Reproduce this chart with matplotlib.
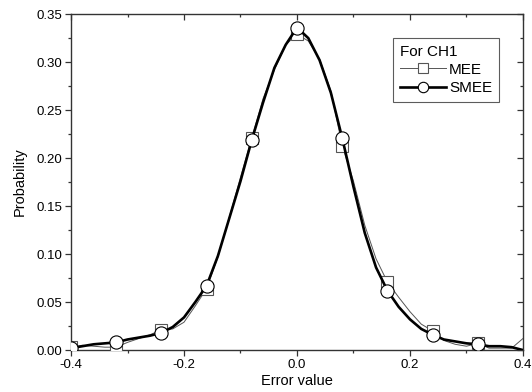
import matplotlib
matplotlib.use("Agg")
import matplotlib.pyplot as plt
from matplotlib.ticker import MultipleLocator
from matplotlib.lines import Line2D

plt.rcParams['font.family'] = ['Liberation Sans', 'DejaVu Sans']

error_values = [-0.40, -0.38, -0.36, -0.34, -0.32, -0.30, -0.28, -0.26, -0.24, -0.22,
                -0.20, -0.18, -0.16, -0.14, -0.12, -0.10, -0.08, -0.06, -0.04, -0.02,
                0.00, 0.02, 0.04, 0.06, 0.08, 0.10, 0.12, 0.14, 0.16, 0.18,
                0.20, 0.22, 0.24, 0.26, 0.28, 0.30, 0.32, 0.34, 0.36, 0.38, 0.40]

mee = [0.003, 0.005, 0.004, 0.003, 0.003, 0.008, 0.012, 0.016, 0.021, 0.022,
       0.029, 0.046, 0.064, 0.097, 0.138, 0.180, 0.221, 0.262, 0.292, 0.318,
       0.329, 0.322, 0.303, 0.270, 0.213, 0.176, 0.130, 0.095, 0.071, 0.055,
       0.040, 0.027, 0.020, 0.010, 0.006, 0.004, 0.007, 0.002, 0.002, 0.002, 0.012]

smee = [0.002, 0.004, 0.006, 0.007, 0.008, 0.011, 0.013, 0.015, 0.018, 0.024,
        0.034, 0.050, 0.067, 0.098, 0.137, 0.176, 0.219, 0.258, 0.294, 0.318,
        0.336, 0.325, 0.302, 0.268, 0.221, 0.170, 0.122, 0.086, 0.062, 0.045,
        0.032, 0.022, 0.016, 0.011, 0.009, 0.007, 0.006, 0.004, 0.004, 0.003, 0.000]

x_ticks = [-0.4, -0.2, 0.0, 0.2, 0.4]
x_tick_labels = ['-0.4', '-0.2', '0.0', '0.2', '0.4']
y_ticks = [0.00, 0.05, 0.10, 0.15, 0.20, 0.25, 0.30, 0.35]
y_tick_labels = ['0.00', '0.05', '0.10', '0.15', '0.20', '0.25', '0.30', '0.35']

fig = plt.figure(figsize=(5.32, 3.92), dpi=100)
ax = fig.add_axes([0.1335, 0.107, 0.8495, 0.857])

mee_style = dict(color='#555555', lw=0.7, marker='s', markersize=8.5,
                 markerfacecolor='white', markeredgecolor='#555555', markeredgewidth=0.8)
smee_style = dict(color='black', lw=1.9, marker='o', markersize=9.5,
                  markerfacecolor='white', markeredgecolor='black', markeredgewidth=0.8)

marks = list(range(0, 40, 4))
ax.plot(error_values, mee, markevery=marks, zorder=3, **mee_style)
ax.plot(error_values, smee, markevery=marks, zorder=4, **smee_style)

ax.set_xlim(-0.4, 0.4)
ax.set_ylim(0.0, 0.35)
ax.set_xticks(x_ticks)
ax.set_xticklabels(x_tick_labels)
ax.set_yticks(y_ticks)
ax.set_yticklabels(y_tick_labels)
ax.xaxis.set_minor_locator(MultipleLocator(0.1))
ax.yaxis.set_minor_locator(MultipleLocator(0.025))

for s in ax.spines.values():
    s.set_color('#333333')
    s.set_linewidth(1.0)

ax.tick_params(which='both', direction='out', labelsize=9.5, colors='#333333',
               labelcolor='black', top=False, right=False, pad=2)
ax.tick_params(which='major', length=4.5, width=0.9)
ax.tick_params(which='minor', length=2.5, width=0.9)

secx = ax.secondary_xaxis('top')
secx.set_xticks(x_ticks)
secx.xaxis.set_minor_locator(MultipleLocator(0.1))
secx.tick_params(which='both', direction='in', labeltop=False, colors='#333333')
secx.tick_params(which='major', length=4.5, width=0.9)
secx.tick_params(which='minor', length=2.5, width=0.9)
secx.spines['top'].set_visible(False)
secx.set_xticklabels([])
secy = ax.secondary_yaxis('right')
secy.set_yticks(y_ticks)
secy.yaxis.set_minor_locator(MultipleLocator(0.025))
secy.tick_params(which='both', direction='in', labelright=False, colors='#333333')
secy.tick_params(which='major', length=4.5, width=0.9)
secy.tick_params(which='minor', length=2.5, width=0.9)
secy.spines['right'].set_visible(False)
secy.set_yticklabels([])

ax.set_xlabel('Error value', fontsize=10.5, labelpad=2)
ax.set_ylabel('Probability', fontsize=10.5, labelpad=7)

leg_mee = dict(mee_style, markersize=6.5)
leg_smee = dict(smee_style, markersize=7.5)
handles = [Line2D([], [], **leg_mee), Line2D([], [], **leg_smee)]
leg = ax.legend(handles, ['MEE', 'SMEE'], title='For CH1', loc='upper left',
                bbox_to_anchor=(0.713, 0.93), numpoints=1,
                fontsize=11, title_fontsize=11, frameon=True, fancybox=False,
                edgecolor='#333333', handlelength=3.0, handletextpad=0.2,
                borderpad=0.45, labelspacing=0.28, alignment='left',
                borderaxespad=0)
leg.get_frame().set_linewidth(0.8)

fig.savefig('out.png', dpi=100)
